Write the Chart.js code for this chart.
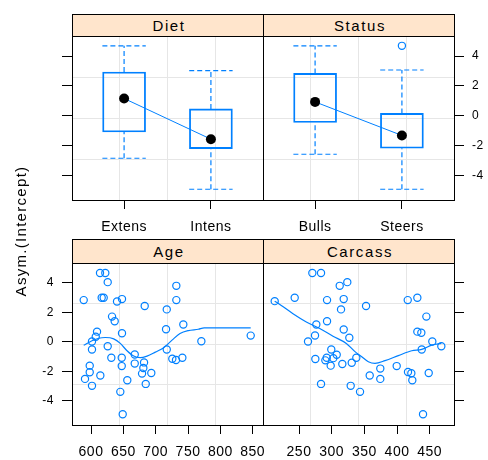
<!DOCTYPE html>
<html>
<head>
<meta charset="utf-8">
<script src="https://cdn.jsdelivr.net/npm/chart.js@4"></script>
<style>
  body { margin: 0; background: #fff; }
  #wrap { position: relative; width: 488px; height: 460px; font-family: "Liberation Sans", Arial, sans-serif; color: #000; }
  canvas { position: absolute; left: 0; top: 0; }
  .strip { position: absolute; box-sizing: border-box; width: 192px; background: #ffe5cc; border: 1px solid #000;
           font-size: 15px; letter-spacing: 1.6px; padding-left: 2px; text-align: center; }
  .top { top: 14px; height: 23px; line-height: 21px; }
  .bottom { top: 239px; height: 25px; line-height: 23px; }
  #ylab { position: absolute; left: -79px; top: 221px; width: 200px; height: 20px; line-height: 20px;
          text-align: center; font-size: 15px; letter-spacing: 1.3px; transform: rotate(-90deg); }
</style>
</head>
<body>
<div id="wrap">
  <canvas id="diet" width="488" height="460"></canvas>
  <canvas id="status" width="488" height="460"></canvas>
  <canvas id="age" width="488" height="460"></canvas>
  <canvas id="carcass" width="488" height="460"></canvas>
  <div class="strip top" style="left:72px">Diet</div>
  <div class="strip top" style="left:263px">Status</div>
  <div class="strip bottom" style="left:72px">Age</div>
  <div class="strip bottom" style="left:263px">Carcass</div>
  <div id="ylab">Asym.(Intercept)</div>
</div>
<script>
const BLUE = "#0080ff";
const FONT = '"Liberation Sans", Arial, sans-serif';

// boxplot panels
const dietGroups = ["Extens", "Intens"];
const dietLower = [-2.85, -4.93];
const dietQ1 = [-1.09, -2.20];
const dietMedian = [1.16, -1.57];
const dietQ3 = [2.93, 0.46];
const dietUpper = [4.69, 3.03];

const statusGroups = ["Bulls", "Steers"];
const statusLower = [-2.58, -4.93];
const statusQ1 = [-0.45, -2.18];
const statusMedian = [0.93, -1.32];
const statusQ3 = [2.84, 0.16];
const statusUpper = [4.69, 3.07];
const statusOutGroup = ["Steers"];
const statusOutValue = [4.69];

// scatter panels
const ageX = [613.9, 622.1, 625.8, 731.9, 588.7, 616.5, 619.6, 640.2, 647.9, 731.9, 683.0, 717.1, 632.5, 636.6, 609.3, 647.9,
  716.0, 742.7, 607.3, 601.5, 625.8, 601.5, 667.6, 717.1, 631.4, 647.5, 667.6, 682.0, 598.0, 647.5, 680.9, 598.0,
  678.9, 693.2, 614.4, 590.7, 656.1, 684.6, 601.5, 645.3, 649.0, 770.6, 846.9, 725.7, 731.4, 741.2];
const ageY = [4.67, 4.67, 4.05, 3.80, 2.83, 2.99, 2.99, 2.74, 2.90, 2.83, 2.43, 2.20, 1.71, 1.39, 0.69, 0.58,
  0.85, 1.17, 0.34, 0.02, -0.30, -0.52, -0.86, -0.52, -1.08, -1.08, -1.48, -1.40, -1.62, -1.65, -1.78, -2.07,
  -2.16, -2.12, -2.29, -2.52, -2.61, -2.86, -2.99, -3.40, -4.92, 0.04, 0.42, -1.15, -1.24, -1.08];
const ageSmoothX = [588.7, 601.5, 611.9, 622.1, 635.1, 645.3, 655.7, 666.0, 676.2, 686.6, 699.4, 712.4, 725.3, 737.6, 750.5, 765.9, 775.0, 846.9];
const ageSmoothY = [-0.23, 0.07, 0.24, 0.29, 0.20, -0.11, -0.61, -0.97, -1.08, -0.97, -0.70, -0.40, 0.11, 0.56, 0.76, 0.85, 0.94, 0.94];

const carcassX = [270.4, 283.7, 323.9, 312.3, 243.4, 212.8, 292.9, 318.4, 416.4, 431.1, 352.6, 314.3, 444.9, 292.9, 276.5, 318.4,
  431.1, 437.2, 274.5, 327.0, 263.8, 454.0, 467.8, 299.4, 437.8, 307.7, 302.5, 275.0, 292.4, 290.3, 337.7, 330.7,
  316.3, 298.5, 374.4, 399.5, 416.8, 421.9, 448.5, 358.2, 374.4, 423.4, 283.7, 329.1, 343.4, 439.8];
const carcassY = [4.67, 4.67, 4.05, 3.80, 2.99, 2.76, 2.83, 2.90, 2.83, 2.99, 2.43, 2.20, 1.71, 1.39, 1.17, 0.83,
  0.69, 0.61, 0.43, 0.27, 0.02, 0.02, -0.30, -0.52, -0.52, -0.88, -1.11, -1.17, -1.08, -1.26, -1.08, -1.42,
  -1.51, -1.62, -1.82, -1.65, -2.05, -2.14, -2.12, -2.29, -2.52, -2.61, -2.86, -2.99, -3.40, -4.92];
const carcassSmoothX = [212.8, 222.9, 240.8, 261.2, 281.7, 302.0, 322.4, 335.7, 346.0, 356.1, 366.3, 381.6, 402.0, 422.5, 437.8, 453.1, 467.8];
const carcassSmoothY = [2.76, 2.47, 1.91, 1.35, 0.90, 0.38, -0.11, -0.67, -1.01, -1.35, -1.46, -1.28, -0.94, -0.61, -0.52, -0.23, -0.11];

// axes
const yTicks = [-4, -2, 0, 2, 4];
const yRange = [-5.65, 5.35];
const groupRange = [0.4, 2.6];
const ageTicks = [600, 650, 700, 750, 800, 850];
const ageRange = [570.6, 865.9];
const carcassTicks = [250, 300, 350, 400, 450];
const carcassRange = [194.9, 487.2];

const frame = {
  id: "frame",
  beforeDraw(chart) { chart.ctx.letterSpacing = "0.5px"; },
  afterDatasetsDraw(chart) {
    const { ctx, chartArea: a } = chart;
    ctx.save();
    ctx.strokeStyle = "#000";
    ctx.lineWidth = 1;
    ctx.strokeRect(a.left + 0.5, a.top + 0.5, a.right - a.left, a.bottom - a.top);
    ctx.restore();
  }
};

function quarters(r) {
  return [1, 2, 3].map(k => ({ value: r[0] + k * (r[1] - r[0]) / 4 }));
}

function makeScales(o) {
  return {
    x: {
      type: "linear", position: "bottom", min: o.xRange[0], max: o.xRange[1], bounds: "data", offset: false,
      afterBuildTicks: s => { s.ticks = o.xTicks.map(v => ({ value: v })); },
      afterFit: s => { s.height = o.xHeight; },
      grid: { drawOnChartArea: false, offset: false, tickLength: 9, color: "#000" },
      border: { display: false },
      ticks: { color: "#000", font: { family: FONT, size: 14 }, padding: 10, maxRotation: 0, autoSkip: false, callback: o.xLabel }
    },
    y: {
      type: "linear", position: o.yPos, min: yRange[0], max: yRange[1], bounds: "data",
      afterBuildTicks: s => { s.ticks = yTicks.map(v => ({ value: v })); },
      afterFit: s => { s.width = o.yWidth; },
      grid: { drawOnChartArea: false, offset: false, tickLength: 10, color: "#000" },
      border: { display: false },
      ticks: { display: o.yLabels, color: "#000", font: { family: FONT, size: 12 }, padding: 8 }
    },
    xg: {
      type: "linear", position: "bottom", min: o.xRange[0], max: o.xRange[1], bounds: "data", offset: false,
      afterBuildTicks: s => { s.ticks = quarters(o.xRange); },
      afterFit: s => { s.height = 0; },
      grid: { drawTicks: false, offset: false, color: "#e6e6e6" }, border: { display: false }, ticks: { display: false }
    },
    yg: {
      type: "linear", position: o.yPos, min: yRange[0], max: yRange[1], bounds: "data",
      afterBuildTicks: s => { s.ticks = quarters(yRange); },
      afterFit: s => { s.width = 0; },
      grid: { drawTicks: false, offset: false, color: "#e6e6e6" }, border: { display: false }, ticks: { display: false }
    }
  };
}

function seg(x1, y1, x2, y2) {
  return { type: "line", data: [{ x: x1, y: y1 }, { x: x2, y: y2 }], borderColor: BLUE, borderWidth: 1.2,
           borderDash: [5, 3], pointRadius: 0 };
}

function boxSets(groups, lower, q1, med, q3, upper) {
  const sets = [];
  groups.forEach((g, i) => {
    const x = i + 1;
    sets.push(seg(x, q3[i], x, upper[i]));
    sets.push(seg(x, lower[i], x, q1[i]));
    sets.push(seg(x - 0.25, upper[i], x + 0.25, upper[i]));
    sets.push(seg(x - 0.25, lower[i], x + 0.25, lower[i]));
  });
  sets.push({ type: "bar", data: groups.map((g, i) => ({ x: i + 1, y: [q1[i], q3[i]] })),
              backgroundColor: "rgba(0,0,0,0)", borderColor: BLUE, borderWidth: 1.2, borderSkipped: false, barThickness: 43 });
  sets.push({ type: "line", data: groups.map((g, i) => ({ x: i + 1, y: med[i] })), borderColor: BLUE, borderWidth: 1,
              pointRadius: 5, pointBackgroundColor: "#000", pointBorderColor: "#000", pointBorderWidth: 0 });
  return sets;
}

function pointSet(xs, ys) {
  return { type: "scatter", data: xs.map((x, i) => ({ x: x, y: ys[i] })), pointRadius: 3.6, borderWidth: 1.2,
           borderColor: BLUE, backgroundColor: "rgba(0,0,0,0)" };
}

function smoothSet(xs, ys) {
  return { type: "line", data: xs.map((x, i) => ({ x: x, y: ys[i] })), borderColor: BLUE, borderWidth: 1.2,
           pointRadius: 0, cubicInterpolationMode: "monotone" };
}

function makePanel(id, datasets, padding, scaleOpts) {
  new Chart(id, {
    type: "scatter",
    data: { datasets: datasets },
    options: {
      responsive: false, animation: false, events: [],
      layout: { padding: padding },
      plugins: { legend: { display: false }, tooltip: { enabled: false } },
      scales: makeScales(scaleOpts)
    },
    plugins: [frame]
  });
}

const statusOutliers = {
  type: "scatter",
  data: statusOutGroup.map((g, i) => ({ x: statusGroups.indexOf(g) + 1, y: statusOutValue[i] })),
  pointRadius: 3.6, borderWidth: 1.2, borderColor: BLUE, backgroundColor: "rgba(0,0,0,0)"
};

makePanel("diet", boxSets(dietGroups, dietLower, dietQ1, dietMedian, dietQ3, dietUpper),
  { left: 0, top: 36, right: 225, bottom: 220 },
  { xRange: groupRange, xTicks: [1, 2], xLabel: v => dietGroups[Math.round(v) - 1], xHeight: 40,
    yPos: "left", yWidth: 72, yLabels: false });

makePanel("status", boxSets(statusGroups, statusLower, statusQ1, statusMedian, statusQ3, statusUpper).concat([statusOutliers]),
  { left: 263, top: 36, right: 0, bottom: 220 },
  { xRange: groupRange, xTicks: [1, 2], xLabel: v => statusGroups[Math.round(v) - 1], xHeight: 40,
    yPos: "right", yWidth: 34, yLabels: true });

makePanel("age", [pointSet(ageX, ageY), smoothSet(ageSmoothX, ageSmoothY)],
  { left: 0, top: 263, right: 225, bottom: 0 },
  { xRange: ageRange, xTicks: ageTicks, xLabel: v => v, xHeight: 35,
    yPos: "left", yWidth: 72, yLabels: true });

makePanel("carcass", [pointSet(carcassX, carcassY), smoothSet(carcassSmoothX, carcassSmoothY)],
  { left: 263, top: 263, right: 0, bottom: 0 },
  { xRange: carcassRange, xTicks: carcassTicks, xLabel: v => v, xHeight: 35,
    yPos: "right", yWidth: 34, yLabels: false });
</script>
</body>
</html>
